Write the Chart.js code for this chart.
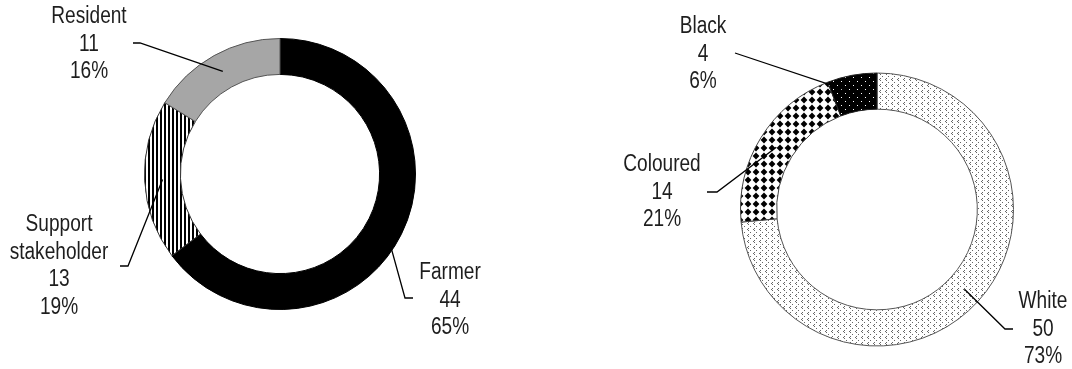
<!DOCTYPE html>
<html>
<head>
<meta charset="utf-8">
<script src="https://cdn.jsdelivr.net/npm/chart.js@4.4.1/dist/chart.umd.min.js"></script>
<style>
  html, body { margin: 0; padding: 0; background: #fff; }
  #wrap { position: relative; width: 1072px; height: 369px; }
  canvas { position: absolute; top: 0; }
  #roleChart { left: 0; }
  #raceChart { left: 536px; }
</style>
</head>
<body>
<div id="wrap">
  <canvas id="roleChart" width="536" height="369"></canvas>
  <canvas id="raceChart" width="536" height="369"></canvas>
</div>
<script>
// respondents by role
const roleLabels = [['Farmer'], ['Support', 'stakeholder'], ['Resident']];
const roleCounts = [44, 13, 11];
const rolePercents = [65, 19, 16];

// respondents by population group
const raceLabels = [['White'], ['Coloured'], ['Black']];
const raceCounts = [50, 14, 4];
const racePercents = [73, 21, 6];

const FONT = '23px "Liberation Sans", Arial, sans-serif';
const NARROW = 0.83;   // squeeze text horizontally, narrow face not installed
const LINE_H = 27.5;

// small tile patterns for the hatched slices
function tile(w, h, draw) {
  const c = document.createElement('canvas');
  c.width = w; c.height = h;
  const g = c.getContext('2d');
  draw(g);
  return document.createElement('canvas').getContext('2d').createPattern(c, 'repeat');
}

const stripes = tile(4, 4, g => {
  g.fillStyle = '#fff'; g.fillRect(0, 0, 4, 4);
  g.fillStyle = '#000'; g.fillRect(0, 0, 2, 4);
});

const darkDots = tile(8, 8, g => {
  g.fillStyle = '#000'; g.fillRect(0, 0, 8, 8);
  g.fillStyle = '#fff';
  g.fillRect(1, 1, 1, 1);
  g.fillRect(5, 5, 1, 1);
});

const diamonds = tile(8, 8, g => {
  g.fillStyle = '#fff'; g.fillRect(0, 0, 8, 8);
  g.fillStyle = '#000';
  g.beginPath();
  g.moveTo(4, 0.6); g.lineTo(7.4, 4); g.lineTo(4, 7.4); g.lineTo(0.6, 4);
  g.closePath(); g.fill();
});

const lightDots = tile(6, 6, g => {
  g.fillStyle = '#fff'; g.fillRect(0, 0, 6, 6);
  g.fillStyle = '#666';
  g.fillRect(1, 1, 1, 1); g.fillRect(2, 0, 1, 1); g.fillRect(2, 2, 1, 1);
  g.fillRect(4, 4, 1, 1);
});

// callout labels: text block + leader line from the slice middle
const calloutPlugin = {
  id: 'callouts',
  afterDraw(chart, args, opts) {
    const ctx = chart.ctx;
    const meta = chart.getDatasetMeta(0);
    const ds = chart.data.datasets[0];
    ctx.save();
    meta.data.forEach((arc, i) => {
      const c = opts.items[i];
      const cx = arc.x, cy = arc.y;
      const p = arc.tooltipPosition();
      ctx.strokeStyle = '#000';
      ctx.lineWidth = 1.3;
      ctx.beginPath();
      ctx.moveTo(p.x, p.y);
      c.path.forEach(pt => ctx.lineTo(cx + pt[0], cy + pt[1]));
      ctx.stroke();

      const lines = chart.data.labels[i].concat([String(ds.data[i]), opts.percents[i] + '%']);
      ctx.fillStyle = '#1e1e1e';
      ctx.font = FONT;
      ctx.textAlign = 'center';
      ctx.textBaseline = 'middle';
      lines.forEach((t, k) => {
        ctx.save();
        ctx.translate(cx + c.x, cy + c.y + k * LINE_H);
        ctx.scale(NARROW, 1);
        ctx.fillText(t, 0, 0);
        ctx.restore();
      });
    });
    ctx.restore();
  }
};

function makeDoughnut(id, labels, counts, percents, fills, borders, padding, items) {
  new Chart(document.getElementById(id), {
    type: 'doughnut',
    data: {
      labels: labels,
      datasets: [{
        data: counts,
        backgroundColor: fills,
        borderColor: borders,
        borderWidth: 1
      }]
    },
    options: {
      responsive: false,
      animation: false,
      cutout: '73.5%',
      layout: { padding: padding },
      plugins: {
        legend: { display: false },
        tooltip: { enabled: false },
        callouts: { items: items, percents: percents }
      }
    },
    plugins: [calloutPlugin]
  });
}

makeDoughnut('roleChart', roleLabels, roleCounts, rolePercents,
  ['#000', stripes, '#a6a6a6'],
  ['#000', '#333', '#555'],
  { left: 144, right: 120, top: 38, bottom: 59 },
  [
    { x: 170, y: 99, path: [[125, 124], [133, 124]] },
    { x: -221, y: 51, path: [[-152, 92], [-160, 92]] },
    { x: -191, y: -157, path: [[-140, -131], [-147, -131]] }
  ]);

makeDoughnut('raceChart', raceLabels, raceCounts, racePercents,
  [lightDots, diamonds, darkDots],
  ['#555', '#444', '#222'],
  { left: 204, right: 58, top: 72, bottom: 22 },
  [
    { x: 166, y: 92.5, path: [[128, 119.5], [136, 119.5]] },
    { x: -215, y: -44.5, path: [[-160, -17.5], [-170, -17.5]] },
    { x: -174, y: -182.5, path: [[-142, -156.5]] }
  ]);
</script>
</body>
</html>
